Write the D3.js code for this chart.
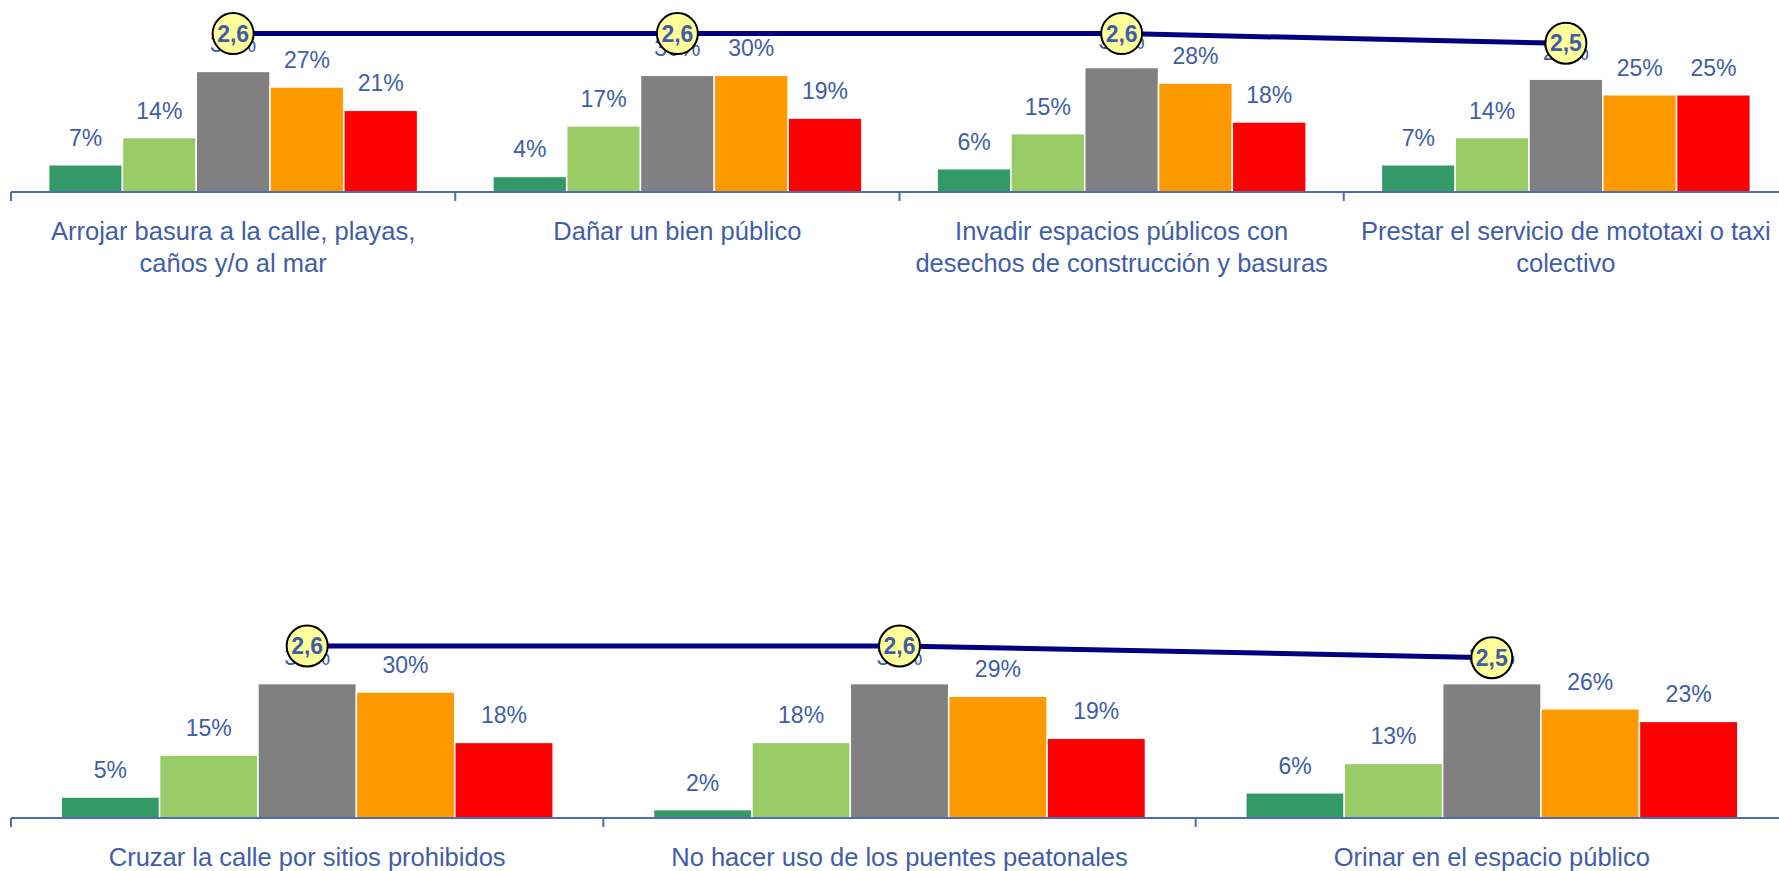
<!DOCTYPE html>
<html>
<head>
<meta charset="utf-8">
<script src="https://cdn.jsdelivr.net/npm/d3@7"></script>
<style>
  body { margin: 0; background: #fff; }
  text { font-family: "Liberation Sans", Arial, sans-serif; }
</style>
</head>
<body>
<div id="chart"></div>
<script>
const topCategories = [
  ['Arrojar basura a la calle, playas,', 'caños y/o al mar'],
  ['Dañar un bien público'],
  ['Invadir espacios públicos con', 'desechos de construcción y basuras'],
  ['Prestar el servicio de mototaxi o taxi', 'colectivo']
];
const topValues = [
  [7, 14, 31, 27, 21],
  [4, 17, 30, 30, 19],
  [6, 15, 32, 28, 18],
  [7, 14, 29, 25, 25]
];
const topAverages = [2.6, 2.6, 2.6, 2.5];

const bottomCategories = [
  ['Cruzar la calle por sitios prohibidos'],
  ['No hacer uso de los puentes peatonales'],
  ['Orinar en el espacio público']
];
const bottomValues = [
  [5, 15, 32, 30, 18],
  [2, 18, 32, 29, 19],
  [6, 13, 32, 26, 23]
];
const bottomAverages = [2.6, 2.6, 2.5];

const seriesKeys = ['s1', 's2', 's3', 's4', 's5'];
const COLORS = ['#339966', '#99CC66', '#808080', '#FF9900', '#FF0000'];
const TEXT = '#3F5DA8';
const AXIS = '#4F6DB3';

const WIDTH = 1779, HEIGHT = 871;
const X_RANGE = [11, 1788];

const svg = d3.select('#chart').append('svg')
  .attr('width', WIDTH)
  .attr('height', HEIGHT);

svg.append('rect').attr('width', WIDTH).attr('height', HEIGHT).attr('fill', '#fff');

const locale = d3.formatLocale({ decimal: ',', thousands: '.', grouping: [3], currency: ['', ''] });
const fmtAvg = locale.format('.1f');

function drawPanel(categories, values, averages, opt) {
  const g = svg.append('g');
  const names = categories.map(c => c.join(' '));

  const x = d3.scaleBand().domain(names).range(X_RANGE).padding(0);
  const xs = d3.scaleBand().domain(seriesKeys).range([0, x.bandwidth()])
    .paddingInner(0).paddingOuter(0.51);
  const y = d3.scaleLinear().domain([0, 40]).range([opt.base, opt.base - opt.span]);
  const yLine = d3.scaleLinear().domain([2.5, 2.6]).range(opt.lineRange);

  const groups = g.selectAll('g.cat')
    .data(values)
    .enter().append('g')
      .attr('class', 'cat')
      .attr('transform', (d, i) => `translate(${x(names[i])},0)`);

  groups.selectAll('rect')
    .data(d => d.map((v, j) => ({ key: seriesKeys[j], v, j })))
    .enter().append('rect')
      .attr('x', d => xs(d.key))
      .attr('y', d => y(d.v))
      .attr('width', xs.bandwidth())
      .attr('height', d => opt.base - y(d.v))
      .attr('fill', d => COLORS[d.j])
      .attr('stroke', '#fff')
      .attr('stroke-width', 1.5);

  // axis with ticks at category boundaries
  g.append('line')
    .attr('x1', X_RANGE[0]).attr('x2', X_RANGE[1])
    .attr('y1', opt.base).attr('y2', opt.base)
    .attr('stroke', AXIS).attr('stroke-width', 2);

  g.selectAll('line.tick')
    .data(names)
    .enter().append('line')
      .attr('class', 'tick')
      .attr('x1', d => x(d)).attr('x2', d => x(d))
      .attr('y1', opt.base).attr('y2', opt.base + 9)
      .attr('stroke', AXIS).attr('stroke-width', 2);

  const labels = g.selectAll('text.cat')
    .data(categories)
    .enter().append('text')
      .attr('class', 'cat')
      .attr('text-anchor', 'middle')
      .attr('fill', TEXT)
      .attr('font-size', 25.5)
      .attr('x', (d, i) => x(names[i]) + x.bandwidth() / 2)
      .attr('y', opt.base + 48);

  labels.selectAll('tspan')
    .data(d => d)
    .enter().append('tspan')
      .attr('x', function () { return d3.select(this.parentNode).attr('x'); })
      .attr('dy', (d, i) => i === 0 ? 0 : 32)
      .text(d => d);

  // average line
  const pts = averages.map((v, i) => [x(names[i]) + x.bandwidth() / 2, yLine(v), v]);

  g.append('path')
    .attr('d', d3.line()(pts.map(p => [p[0], p[1]])))
    .attr('fill', 'none')
    .attr('stroke', '#000080')
    .attr('stroke-width', 5);

  g.selectAll('circle')
    .data(pts)
    .enter().append('circle')
      .attr('cx', d => d[0])
      .attr('cy', d => d[1])
      .attr('r', 20.5)
      .attr('fill', '#FFFF99')
      .attr('stroke', '#000')
      .attr('stroke-width', 2);

  groups.selectAll('text')
    .data(d => d.map((v, j) => ({ key: seriesKeys[j], v })))
    .enter().append('text')
      .attr('x', d => xs(d.key) + xs.bandwidth() / 2)
      .attr('y', d => y(d.v) - 19)
      .attr('text-anchor', 'middle')
      .attr('fill', TEXT)
      .attr('font-size', 23)
      .text(d => d.v + '%');

  g.selectAll('text.avg')
    .data(pts)
    .enter().append('text')
      .attr('class', 'avg')
      .attr('x', d => d[0])
      .attr('y', d => d[1] + 8)
      .attr('text-anchor', 'middle')
      .attr('fill', TEXT)
      .attr('font-size', 23)
      .attr('font-weight', 'bold')
      .text(d => fmtAvg(d[2]));
}

drawPanel(topCategories, topValues, topAverages, { base: 192, span: 155.6, lineRange: [43.3, 33.6] });
drawPanel(bottomCategories, bottomValues, bottomAverages, { base: 818, span: 168, lineRange: [657.7, 646] });
</script>
</body>
</html>
